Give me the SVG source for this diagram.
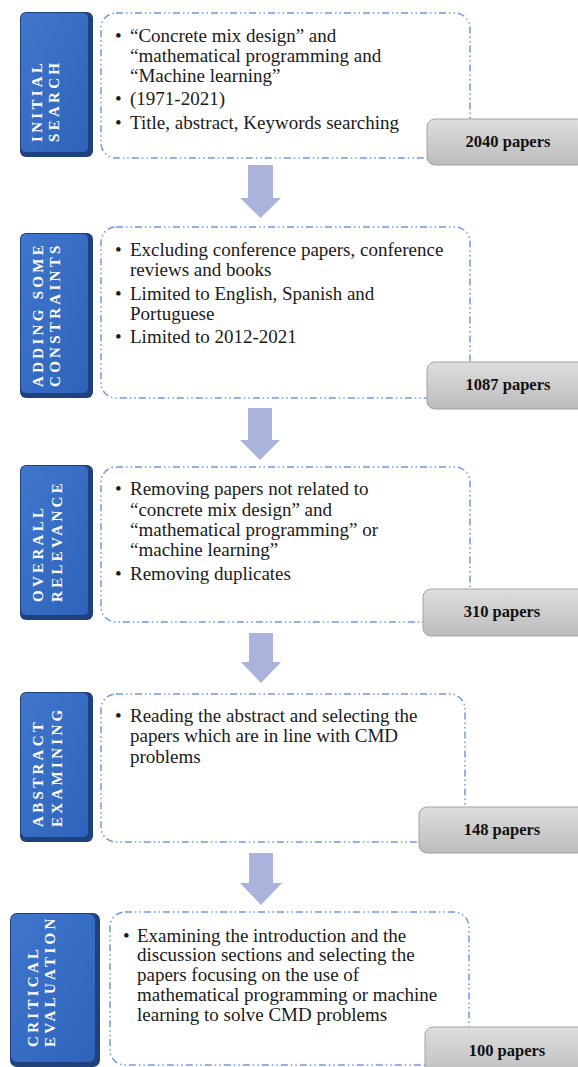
<svg xmlns="http://www.w3.org/2000/svg" width="578" height="1067" viewBox="0 0 578 1067">
<defs>
<linearGradient id="gGray" x1="0" y1="0" x2="0" y2="1">
<stop offset="0" stop-color="#dedede"/>
<stop offset="1" stop-color="#bcbcbc"/>
</linearGradient>
<linearGradient id="gBlue" x1="0" y1="0" x2="1" y2="1">
<stop offset="0" stop-color="#3f76cc"/>
<stop offset="1" stop-color="#2f63bb"/>
</linearGradient>
</defs>
<style>
.bev{fill:#1f427f}
.blue{fill:url(#gBlue)}
.dash{fill:#fff;stroke:#6f9ae4;stroke-width:1.5;stroke-dasharray:7 3 1.5 3 1.5 3}
.gray{fill:url(#gGray);stroke:#a3a3a3;stroke-width:1}
.vt{font-family:"Liberation Serif",serif;font-weight:bold;font-size:15px;letter-spacing:3.3px;fill:#fff}
.bt{font-family:"Liberation Serif",serif;font-size:19px;fill:#1a1a1a}
.gt{font-family:"Liberation Serif",serif;font-weight:bold;font-size:16.5px;fill:#111;text-anchor:middle}
.arr{fill:#a9b3dc}
</style>
<rect width="578" height="1067" fill="#fff"/>

<g id="connectors">
<polygon class="arr" points="248,165 273,165 273,198 281,198 260.5,218 240,198 248,198"/>
<polygon class="arr" points="248,408 272,408 272,440 280,440 260,460 240,440 248,440"/>
<polygon class="arr" points="249,633 273,633 273,662 281,662 261,683 241,662 249,662"/>
<polygon class="arr" points="249,853 273,853 273,883 282,883 261,905 240,883 249,883"/>
</g>

<g id="node1">
<rect class="bev" x="20" y="12" width="73" height="145" rx="6"/>
<rect class="blue" x="21" y="13" width="67" height="139" rx="5"/>
<text class="vt" transform="translate(37,142) rotate(-90)" y="5">INITIAL</text>
<text class="vt" transform="translate(54,142) rotate(-90)" y="5">SEARCH</text>
<rect class="dash" x="101" y="13" width="369" height="145" rx="15"/>
<text class="bt"><tspan x="115" y="42">•</tspan><tspan x="130" y="42">“Concrete mix design” and</tspan><tspan x="130" y="62">“mathematical programming and</tspan><tspan x="130" y="82">“Machine learning”</tspan><tspan x="115" y="105">•</tspan><tspan x="130" y="105">(1971-2021)</tspan><tspan x="115" y="129">•</tspan><tspan x="130" y="129">Title, abstract, Keywords searching</tspan></text>
<rect class="gray" x="427" y="119" width="170" height="46" rx="8"/>
<text class="gt" x="508" y="147">2040 papers</text>
</g>

<g id="node2">
<rect class="bev" x="20" y="233" width="73" height="165" rx="6"/>
<rect class="blue" x="21" y="234" width="67" height="159" rx="5"/>
<text class="vt" transform="translate(38,387) rotate(-90)" y="5">ADDING SOME</text>
<text class="vt" transform="translate(55,387) rotate(-90)" y="5">CONSTRAINTS</text>
<rect class="dash" x="101" y="227" width="369" height="171" rx="15"/>
<text class="bt"><tspan x="115" y="256">•</tspan><tspan x="130" y="256">Excluding conference papers, conference</tspan><tspan x="130" y="276">reviews and books</tspan><tspan x="115" y="300">•</tspan><tspan x="130" y="300">Limited to English, Spanish and</tspan><tspan x="130" y="320">Portuguese</tspan><tspan x="115" y="343">•</tspan><tspan x="130" y="343">Limited to 2012-2021</tspan></text>
<rect class="gray" x="427" y="362" width="170" height="47" rx="8"/>
<text class="gt" x="508" y="390">1087 papers</text>
</g>

<g id="node3">
<rect class="bev" x="20" y="465" width="73" height="155" rx="6"/>
<rect class="blue" x="21" y="466" width="67" height="149" rx="5"/>
<text class="vt" transform="translate(38,602) rotate(-90)" y="5">OVERALL</text>
<text class="vt" transform="translate(57,602) rotate(-90)" y="5">RELEVANCE</text>
<rect class="dash" x="101" y="467" width="369" height="155" rx="15"/>
<text class="bt"><tspan x="115" y="495">•</tspan><tspan x="130" y="495">Removing papers not related to</tspan><tspan x="130" y="516">“concrete mix design” and</tspan><tspan x="130" y="536">“mathematical programming” or</tspan><tspan x="130" y="556">“machine learning”</tspan><tspan x="115" y="580">•</tspan><tspan x="130" y="580">Removing duplicates</tspan></text>
<rect class="gray" x="423" y="589" width="174" height="47" rx="8"/>
<text class="gt" x="502" y="617">310 papers</text>
</g>

<g id="node4">
<rect class="bev" x="20" y="692" width="73" height="150" rx="6"/>
<rect class="blue" x="21" y="693" width="67" height="144" rx="5"/>
<text class="vt" transform="translate(38,827) rotate(-90)" y="5">ABSTRACT</text>
<text class="vt" transform="translate(57,827) rotate(-90)" y="5">EXAMINING</text>
<rect class="dash" x="101" y="694" width="364" height="148" rx="15"/>
<text class="bt"><tspan x="115" y="722">•</tspan><tspan x="130" y="722">Reading the abstract and selecting the</tspan><tspan x="130" y="742">papers which are in line with CMD</tspan><tspan x="130" y="763">problems</tspan></text>
<rect class="gray" x="419" y="807" width="178" height="46" rx="8"/>
<text class="gt" x="502" y="835">148 papers</text>
</g>

<g id="node5">
<rect class="bev" x="10" y="913" width="90" height="154" rx="7"/>
<rect class="blue" x="11" y="914" width="84" height="148" rx="6"/>
<text class="vt" transform="translate(33,1047) rotate(-90)" y="5">CRITICAL</text>
<text class="vt" transform="translate(50,1047) rotate(-90)" y="5">EVALUATION</text>
<rect class="dash" x="110" y="912" width="359" height="153" rx="15"/>
<text class="bt"><tspan x="123" y="942">•</tspan><tspan x="137" y="942">Examining the introduction and the</tspan><tspan x="137" y="961">discussion sections  and selecting the</tspan><tspan x="137" y="981">papers focusing on the use of</tspan><tspan x="137" y="1001">mathematical programming or machine</tspan><tspan x="137" y="1021">learning to solve CMD problems</tspan></text>
<rect class="gray" x="425" y="1027" width="172" height="50" rx="8"/>
<text class="gt" x="507" y="1056">100 papers</text>
</g>
</svg>
